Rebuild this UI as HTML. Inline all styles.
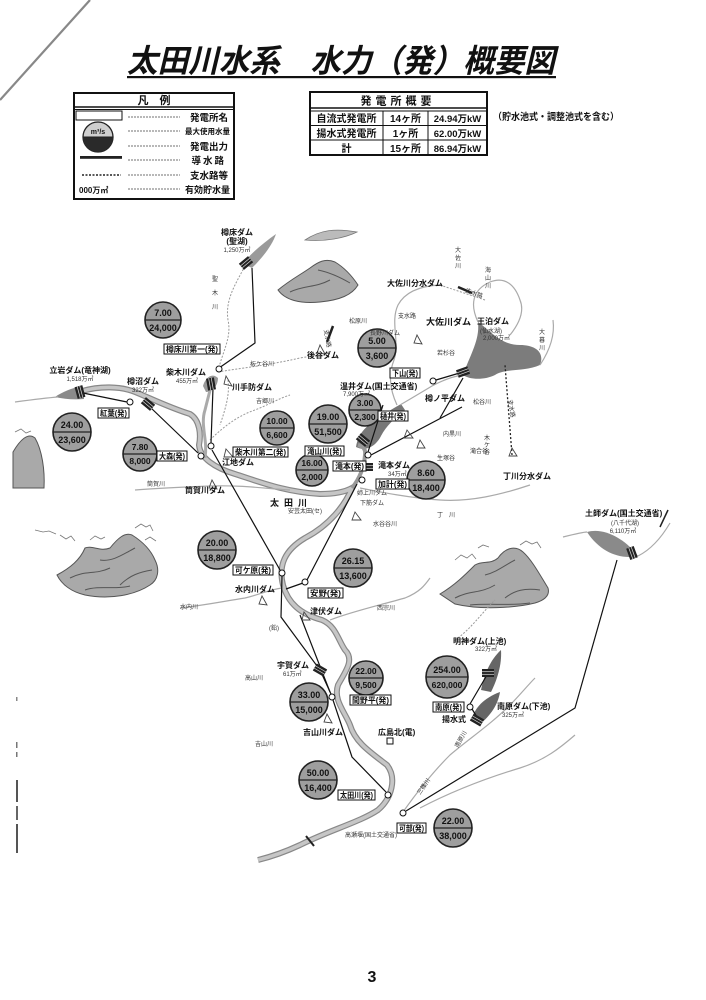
<!DOCTYPE html>
<html><head><meta charset="utf-8">
<style>
html,body{margin:0;padding:0;background:#fff;}
svg{display:block}
text{font-family:"Liberation Sans","Noto Sans CJK JP",sans-serif;font-weight:bold;fill:#111}
.s{font-size:6px;font-weight:normal;fill:#333}
.m{font-size:8px}
.n{font-size:9px}
.c{text-anchor:middle}
.thin{fill:none;stroke:#999;stroke-width:1;stroke-dasharray:2 1.5}
.riv{fill:none;stroke:#aaa;stroke-width:1.2}
.cond{fill:none;stroke:#111;stroke-width:1.2}
.box{fill:#fff;stroke:#111;stroke-width:1}
.pc{fill:#9e9e9e;stroke:#222;stroke-width:1.6}
.mk{fill:#fff;stroke:#111;stroke-width:1}
.mt{fill:#a9a9a9;stroke:#555;stroke-width:1}
.cl{fill:none;stroke:#777;stroke-width:0.8}
</style></head><body>
<svg width="706" height="1000" viewBox="0 0 706 1000" xmlns="http://www.w3.org/2000/svg">
<defs>
<symbol id="dam" viewBox="-7 -5 14 10" overflow="visible">
<rect x="-6" y="-4" width="12" height="8" fill="#222"/>
<line x1="-6" y1="-1.3" x2="6" y2="-1.3" stroke="#ddd" stroke-width="0.7"/>
<line x1="-6" y1="1.3" x2="6" y2="1.3" stroke="#ddd" stroke-width="0.7"/>
</symbol>
</defs>

<!-- scan artefacts -->
<line x1="0" y1="100" x2="90" y2="0" stroke="#888" stroke-width="2.2"/>
<rect x="16" y="780" width="2" height="22" fill="#555"/>
<rect x="16" y="806" width="2" height="14" fill="#666"/>
<rect x="16" y="824" width="2" height="29" fill="#555"/>
<rect x="16" y="742" width="1.5" height="6" fill="#777"/>
<rect x="16" y="752" width="1.5" height="5" fill="#777"/>
<rect x="16" y="697" width="1.5" height="4" fill="#888"/>

<!-- Title -->
<text x="127" y="72" font-size="32" font-style="italic" textLength="428" lengthAdjust="spacingAndGlyphs">太田川水系　水力（発）概要図</text>
<rect x="127" y="76" width="429" height="2.2" fill="#111"/>

<!-- Legend -->
<rect x="74" y="93" width="160" height="106" fill="#fff" stroke="#111" stroke-width="2"/>
<line x1="74" y1="107" x2="234" y2="107" stroke="#111" stroke-width="1.5"/>
<line x1="74" y1="109.5" x2="234" y2="109.5" stroke="#111" stroke-width="1"/>
<text x="154" y="104" class="c" font-size="11">凡　例</text>
<rect x="76" y="111" width="46" height="9" class="box"/>
<circle cx="98" cy="137" r="15" fill="#cfcfcf" stroke="#222" stroke-width="1.3"/>
<path d="M83,137 A15,15 0 0 0 113,137 Z" fill="#2a2a2a"/>
<line x1="83" y1="137" x2="113" y2="137" stroke="#222" stroke-width="1"/>
<text x="98" y="134" class="c" font-size="7">m³/s</text>
<rect x="80" y="156" width="42" height="2.8" fill="#222"/>
<line x1="82" y1="175" x2="121" y2="175" stroke="#222" stroke-width="1.5" stroke-dasharray="2 1.5"/>
<text x="79" y="193" font-size="8">000万㎥</text>
<g stroke="#444" stroke-width="0.7" stroke-dasharray="2 1">
<line x1="128" y1="117" x2="180" y2="117"/>
<line x1="128" y1="131" x2="180" y2="131"/>
<line x1="128" y1="146" x2="180" y2="146"/>
<line x1="128" y1="160" x2="180" y2="160"/>
<line x1="128" y1="175" x2="180" y2="175"/>
<line x1="128" y1="189" x2="180" y2="189"/>
</g>
<text x="228" y="121" text-anchor="end" font-size="9.5">発電所名</text>
<text x="230" y="134" text-anchor="end" font-size="7.5">最大使用水量</text>
<text x="228" y="150" text-anchor="end" font-size="9.5">発電出力</text>
<text x="226" y="164" text-anchor="end" font-size="9.5" letter-spacing="2">導水路</text>
<text x="228" y="179" text-anchor="end" font-size="9.5">支水路等</text>
<text x="230" y="193" text-anchor="end" font-size="9">有効貯水量</text>

<!-- Summary table -->
<rect x="310" y="92" width="177" height="63" fill="#fff" stroke="#111" stroke-width="2"/>
<line x1="310" y1="108" x2="487" y2="108" stroke="#111" stroke-width="1.5"/>
<line x1="310" y1="111" x2="487" y2="111" stroke="#111" stroke-width="1"/>
<line x1="310" y1="125.5" x2="487" y2="125.5" stroke="#111" stroke-width="1"/>
<line x1="310" y1="140" x2="487" y2="140" stroke="#111" stroke-width="1"/>
<line x1="383" y1="111" x2="383" y2="155" stroke="#111" stroke-width="1"/>
<line x1="428" y1="111" x2="428" y2="155" stroke="#111" stroke-width="1"/>
<text x="398" y="104.5" class="c" font-size="11" letter-spacing="4">発電所概要</text>
<text x="346.5" y="122" class="c" font-size="10">自流式発電所</text>
<text x="405.5" y="122" class="c" font-size="10">14ヶ所</text>
<text x="457.5" y="122" class="c" font-size="9.5">24.94万kW</text>
<text x="346.5" y="137" class="c" font-size="10">揚水式発電所</text>
<text x="405.5" y="137" class="c" font-size="10">1ヶ所</text>
<text x="457.5" y="137" class="c" font-size="9.5">62.00万kW</text>
<text x="346.5" y="152" class="c" font-size="10">計</text>
<text x="405.5" y="152" class="c" font-size="10">15ヶ所</text>
<text x="457.5" y="152" class="c" font-size="9.5">86.94万kW</text>
<text x="493" y="120" font-size="9.5" textLength="126" lengthAdjust="spacingAndGlyphs">（貯水池式・調整池式を含む）</text>

<!-- Mountains -->
<path class="mt" d="M57,575 C70,568 80,560 85,548 C92,545 100,552 110,548 C118,538 125,532 132,535 C140,540 150,548 155,560 C160,570 158,580 150,585 C135,595 110,600 85,595 C72,592 62,585 57,575 Z"/>
<path d="M70,578 C85,570 95,575 110,568 M100,560 C112,562 122,555 135,548 M120,585 C130,575 140,572 152,570 M85,590 C100,585 115,590 130,586" fill="none" stroke="#555" stroke-width="1"/>
<path class="cl" d="M35,530 l8,2 l6,-1 l7,3 M60,535 l6,4 l5,-3 l4,5 M90,540 l5,-4 l6,3 l4,-2 M135,528 l6,-4 l5,3 l4,-2 l3,6 M145,540 l5,-3 l6,4"/>
<path class="mt" d="M440,594 C455,585 465,575 475,565 C483,560 490,565 498,558 C505,548 515,545 523,552 C532,560 540,575 548,588 C550,595 545,600 535,603 C515,608 480,610 455,604 Z"/>
<path d="M455,598 C470,590 480,594 495,585 M485,575 C497,572 505,565 515,560 M505,598 C515,590 525,588 540,590 M470,605 C490,603 510,606 530,603" fill="none" stroke="#555" stroke-width="1"/>
<path class="cl" d="M455,560 l6,-5 l6,3 l5,-4 l4,5 M478,548 l5,-3 l6,2 M520,545 l6,-4 l6,3 l5,-2 l4,6"/>
<path class="mt" d="M278,290 C290,280 300,275 310,268 C318,262 325,258 335,262 C345,268 352,276 358,285 C352,295 340,300 320,302 C300,304 285,300 278,290 Z"/>
<path d="M290,292 C305,285 315,288 330,280 M318,270 C328,272 338,276 350,283" fill="none" stroke="#555" stroke-width="1"/>
<path d="M305,240 C320,230 335,228 357,232 C345,238 325,242 305,240 Z" fill="#bbb" stroke="#777" stroke-width="0.8"/>
<path class="mt" d="M13,452 C20,440 28,432 35,438 C42,450 45,470 44,488 L13,488 Z"/>
<path class="cl" d="M15,432 l6,-3 l5,4 l5,-2"/>

<!-- Reservoirs -->
<path d="M243,264 C250,254 262,244 276,234 C272,246 262,258 252,268 Z" fill="#9a9a9a"/>
<path d="M55,397 C62,392 72,388 82,386 L84,399 C74,400 64,399 55,397 Z" fill="#8a8a8a"/>
<path d="M463,375 C470,355 480,340 478,322 C490,330 500,345 520,345 C535,345 545,352 540,365 C525,372 505,368 495,375 C485,380 470,380 463,375 Z" fill="#7c7c7c"/>
<path d="M356,447 C358,434 366,426 376,420 C384,414 392,409 401,404 L405,410 C395,418 386,426 381,436 C376,446 366,452 356,447 Z" fill="#777"/>
<path d="M587,532 C605,527 626,540 638,556 C620,560 600,552 587,532 Z" fill="#8a8a8a"/>
<path d="M481,690 C484,675 490,660 501,650 C502,665 497,680 491,692 Z" fill="#666"/>
<path d="M472,720 C474,708 484,698 500,692 C498,705 490,716 480,724 Z" fill="#666"/>
<path d="M203,386 C205,378 212,372 218,378 C218,386 212,392 206,392 Z" fill="#999"/>

<!-- Main river -->
<path d="M82,391 C100,386 120,386 135,392 C150,398 170,408 190,414 C200,420 201,435 199,445 C200,458 215,468 235,474 C260,482 285,492 320,494 C335,494 345,492 352,488 C345,505 330,525 305,538 C285,550 278,565 283,585 C288,603 300,614 322,620 C336,626 338,640 345,650 C355,660 345,672 338,685 C333,700 345,712 350,725 C355,742 370,752 387,765 C397,778 392,798 378,810 C360,822 330,830 300,845 C285,852 270,857 258,860" fill="none" stroke="#888" stroke-width="6"/>
<path d="M82,391 C100,386 120,386 135,392 C150,398 170,408 190,414 C200,420 201,435 199,445 C200,458 215,468 235,474 C260,482 285,492 320,494 C335,494 345,492 352,488 C345,505 330,525 305,538 C285,550 278,565 283,585 C288,603 300,614 322,620 C336,626 338,640 345,650 C355,660 345,672 338,685 C333,700 345,712 350,725 C355,742 370,752 387,765 C397,778 392,798 378,810 C360,822 330,830 300,845 C285,852 270,857 258,860" fill="none" stroke="#c6c6c6" stroke-width="3.6"/>
<path d="M352,488 C360,478 364,468 365,455 C366,448 362,446 358,445" fill="none" stroke="#999" stroke-width="4"/>
<path d="M205,458 C208,440 200,425 205,410 C208,398 210,390 212,383" fill="none" stroke="#aaa" stroke-width="3"/>
<line x1="306" y1="836" x2="314" y2="846" stroke="#222" stroke-width="2"/>

<!-- Thin rivers -->
<path class="riv" d="M15,402 C30,400 45,398 58,397"/>
<path class="thin" d="M245,266 C235,285 225,300 228,320 C232,338 222,352 218,372"/>
<path class="thin" d="M218,372 C240,368 265,366 300,358 C310,356 318,356 322,355"/>
<path class="thin" d="M210,440 C225,425 240,415 255,410 C268,405 280,398 290,395"/>
<path class="thin" d="M228,380 C230,395 225,410 220,425"/>
<path class="riv" d="M135,490 C160,488 185,487 210,486 C240,485 260,488 290,490"/>
<path class="riv" d="M180,608 C200,606 220,602 245,598 C258,595 268,590 282,588"/>
<path class="riv" d="M330,620 C350,612 380,605 405,598 C420,592 425,585 430,578"/>
<path class="riv" d="M397,405 C390,390 388,375 394,360 C400,342 390,322 398,305 C405,292 420,286 440,285"/>
<path class="riv" d="M400,405 C412,398 422,392 432,386 C445,379 455,376 463,375"/>
<path class="riv" d="M478,322 C470,305 472,290 490,282 C505,276 515,285 520,300 C525,312 518,325 510,335"/>
<path class="riv" d="M540,365 C550,350 555,335 553,320"/>
<path class="thin" d="M440,285 C455,290 470,295 485,300"/>
<path class="riv" d="M360,488 C380,492 410,498 440,500 C470,502 500,495 530,485"/>
<path class="riv" d="M403,812 C415,795 430,775 450,755 C470,738 490,725 510,705 C520,695 528,685 535,678"/>
<path class="riv" d="M420,808 C445,795 480,780 520,768 C545,760 560,748 575,735"/>
<path class="riv" d="M563,537 C575,534 583,532 587,532 M638,556 C650,550 660,540 670,523"/>
<line x1="660" y1="527" x2="668" y2="510" stroke="#222" stroke-width="1.5"/>
<path class="thin" d="M455,640 C470,630 480,615 495,600"/>

<!-- Conduits -->
<path class="cond" d="M252,268 L255,343 L219,368"/>
<path class="cond" d="M213,388 L211,443"/>
<path class="cond" d="M83,393 L127,402"/>
<path class="cond" d="M150,407 L198,453"/>
<path class="cond" d="M212,450 L280,570"/>
<path class="cond" d="M282,576 L281,617 L320,670 L331,694"/>
<path class="cond" d="M300,615 L330,692"/>
<path class="cond" d="M333,700 L352,757 L386,792"/>
<path class="cond" d="M357,484 L307,580 M303,583 L286,589"/>
<path class="cond" d="M617,560 L575,708 L406,811"/>
<path class="cond" d="M470,704 L487,675 M472,709 L477,717"/>
<path class="cond" d="M436,380 L463,372"/>
<path class="cond" d="M368,452 L383,405 M371,455 L462,407"/>
<path class="cond" d="M463,378 L440,418"/>
<path d="M512,455 L505,365" fill="none" stroke="#222" stroke-width="1.3" stroke-dasharray="2 2"/>
<path d="M458,287 L472,293" stroke="#222" stroke-width="2.5"/>
<path d="M327,342 L333,326" stroke="#222" stroke-width="2.5"/>

<!-- Dam symbols -->
<use href="#dam" x="-7" y="-5" width="14" height="10" transform="translate(246,263) rotate(-40)"/>
<use href="#dam" x="-7" y="-5" width="14" height="10" transform="translate(80,392) rotate(75)"/>
<use href="#dam" x="-7" y="-5" width="14" height="10" transform="translate(148,404) rotate(40)"/>
<use href="#dam" x="-7" y="-5" width="14" height="10" transform="translate(211,384) rotate(80)"/>
<use href="#dam" x="-7" y="-5" width="14" height="10" transform="translate(463,372) rotate(-20)"/>
<use href="#dam" x="-7" y="-5" width="14" height="10" transform="translate(363,440) rotate(40)"/>
<use href="#dam" x="-7" y="-5" width="14" height="10" transform="translate(488,673) rotate(0)"/>
<use href="#dam" x="-7" y="-5" width="14" height="10" transform="translate(477,720) rotate(30)"/>
<use href="#dam" x="-7" y="-5" width="14" height="10" transform="translate(632,553) rotate(70)"/>
<use href="#dam" x="-7" y="-5" width="14" height="10" transform="translate(367,467) rotate(0)"/>
<use href="#dam" x="-7" y="-5" width="14" height="10" transform="translate(320,670) rotate(30)"/>

<!-- Small weir icons -->
<g fill="none" stroke="#444" stroke-width="0.9">
<path d="M226,376 l6,10 l-8,-2 z"/>
<path d="M226,449 l7,8 l-9,0 z"/>
<path d="M212,480 l5,9 l-8,-1 z"/>
<path d="M262,596 l5,9 l-8,-1 z"/>
<path d="M304,612 l6,8 l-8,0 z"/>
<path d="M327,714 l5,9 l-8,-1 z"/>
<path d="M355,512 l6,8 l-9,0 z"/>
<path d="M407,430 l6,8 l-9,0 z"/>
<path d="M420,440 l5,8 l-8,0 z"/>
<path d="M512,448 l5,8 l-8,0 z"/>
<path d="M417,335 l5,9 l-8,-1 z"/>
<path d="M320,345 l5,9 l-8,-1 z"/>
</g>

<!-- Marker circles -->
<g class="mk">
<circle cx="219" cy="369" r="3"/>
<circle cx="130" cy="402" r="3"/>
<circle cx="211" cy="446" r="3"/>
<circle cx="201" cy="456" r="3"/>
<circle cx="282" cy="573" r="3"/>
<circle cx="305" cy="582" r="3"/>
<circle cx="332" cy="697" r="3"/>
<circle cx="388" cy="795" r="3"/>
<circle cx="403" cy="813" r="3"/>
<circle cx="470" cy="707" r="3"/>
<circle cx="433" cy="381" r="3"/>
<circle cx="368" cy="455" r="3"/>
<circle cx="362" cy="480" r="3"/>
</g>
<rect x="387" y="738" width="6" height="6" class="box"/>

<!-- Power-plant circles -->
<g>
<circle cx="163" cy="320" r="18" class="pc"/><line x1="145" y1="320" x2="181" y2="320" stroke="#222" stroke-width="1.2"/>
<text x="163" y="316" class="c n">7.00</text><text x="163" y="331" class="c n">24,000</text>

<circle cx="72" cy="432" r="19" class="pc"/><line x1="53" y1="432" x2="91" y2="432" stroke="#222" stroke-width="1.2"/>
<text x="72" y="428" class="c n">24.00</text><text x="72" y="443" class="c n">23,600</text>

<circle cx="140" cy="454" r="17" class="pc"/><line x1="123" y1="454" x2="157" y2="454" stroke="#222" stroke-width="1.2"/>
<text x="140" y="450" class="c" font-size="8.5">7.80</text><text x="140" y="464" class="c" font-size="8.5">8,000</text>

<circle cx="277" cy="428" r="17" class="pc"/><line x1="260" y1="428" x2="294" y2="428" stroke="#222" stroke-width="1.2"/>
<text x="277" y="424" class="c" font-size="8.5">10.00</text><text x="277" y="438" class="c" font-size="8.5">6,600</text>

<circle cx="328" cy="424" r="19" class="pc"/><line x1="309" y1="424" x2="347" y2="424" stroke="#222" stroke-width="1.2"/>
<text x="328" y="420" class="c n">19.00</text><text x="328" y="435" class="c n">51,500</text>

<circle cx="365" cy="410" r="16" class="pc"/><line x1="349" y1="410" x2="381" y2="410" stroke="#222" stroke-width="1.2"/>
<text x="365" y="406" class="c" font-size="8.5">3.00</text><text x="365" y="420" class="c" font-size="8.5">2,300</text>

<circle cx="377" cy="348" r="19" class="pc"/><line x1="358" y1="348" x2="396" y2="348" stroke="#222" stroke-width="1.2"/>
<text x="377" y="344" class="c n">5.00</text><text x="377" y="359" class="c n">3,600</text>

<circle cx="312" cy="470" r="16" class="pc"/><line x1="296" y1="470" x2="328" y2="470" stroke="#222" stroke-width="1.2"/>
<text x="312" y="466" class="c" font-size="8.5">16.00</text><text x="312" y="480" class="c" font-size="8.5">2,000</text>

<circle cx="426" cy="480" r="19" class="pc"/><line x1="407" y1="480" x2="445" y2="480" stroke="#222" stroke-width="1.2"/>
<text x="426" y="476" class="c n">8.60</text><text x="426" y="491" class="c n">18,400</text>

<circle cx="217" cy="550" r="19" class="pc"/><line x1="198" y1="550" x2="236" y2="550" stroke="#222" stroke-width="1.2"/>
<text x="217" y="546" class="c n">20.00</text><text x="217" y="561" class="c n">18,800</text>

<circle cx="353" cy="568" r="19" class="pc"/><line x1="334" y1="568" x2="372" y2="568" stroke="#222" stroke-width="1.2"/>
<text x="353" y="564" class="c n">26.15</text><text x="353" y="579" class="c n">13,600</text>

<circle cx="366" cy="678" r="17" class="pc"/><line x1="349" y1="678" x2="383" y2="678" stroke="#222" stroke-width="1.2"/>
<text x="366" y="674" class="c" font-size="8.5">22.00</text><text x="366" y="688" class="c" font-size="8.5">9,500</text>

<circle cx="309" cy="702" r="19" class="pc"/><line x1="290" y1="702" x2="328" y2="702" stroke="#222" stroke-width="1.2"/>
<text x="309" y="698" class="c n">33.00</text><text x="309" y="713" class="c n">15,000</text>

<circle cx="318" cy="780" r="19" class="pc"/><line x1="299" y1="780" x2="337" y2="780" stroke="#222" stroke-width="1.2"/>
<text x="318" y="776" class="c n">50.00</text><text x="318" y="791" class="c n">16,400</text>

<circle cx="447" cy="677" r="21" class="pc"/><line x1="426" y1="677" x2="468" y2="677" stroke="#222" stroke-width="1.2"/>
<text x="447" y="673" class="c n">254.00</text><text x="447" y="688" class="c" font-size="8.5">620,000</text>

<circle cx="453" cy="828" r="19" class="pc"/><line x1="434" y1="828" x2="472" y2="828" stroke="#222" stroke-width="1.2"/>
<text x="453" y="824" class="c n">22.00</text><text x="453" y="839" class="c n">38,000</text>
</g>

<!-- Name boxes -->
<g>
<rect x="164" y="344" width="56" height="10" class="box"/><text x="192" y="352" class="c m" textLength="52" lengthAdjust="spacingAndGlyphs">樽床川第一(発)</text>
<rect x="98" y="408" width="31" height="10" class="box"/><text x="113.5" y="416" class="c m" textLength="27" lengthAdjust="spacingAndGlyphs">紅葉(発)</text>
<rect x="157" y="451" width="30" height="10" class="box"/><text x="172" y="459" class="c m" textLength="26" lengthAdjust="spacingAndGlyphs">大森(発)</text>
<rect x="233" y="447" width="55" height="10" class="box"/><text x="260.5" y="455" class="c m" textLength="51" lengthAdjust="spacingAndGlyphs">柴木川第二(発)</text>
<rect x="305" y="446" width="39" height="10" class="box"/><text x="324.5" y="454" class="c m" textLength="35" lengthAdjust="spacingAndGlyphs">滝山川(発)</text>
<rect x="378" y="411" width="30" height="10" class="box"/><text x="393" y="419" class="c m" textLength="26" lengthAdjust="spacingAndGlyphs">樋井(発)</text>
<rect x="390" y="368" width="30" height="10" class="box"/><text x="405" y="376" class="c m" textLength="26" lengthAdjust="spacingAndGlyphs">下山(発)</text>
<rect x="333" y="461" width="33" height="10" class="box"/><text x="349.5" y="469" class="c m" textLength="29" lengthAdjust="spacingAndGlyphs">滝本(発)</text>
<rect x="376" y="479" width="33" height="10" class="box"/><text x="392.5" y="487" class="c m" textLength="29" lengthAdjust="spacingAndGlyphs">加計(発)</text>
<rect x="233" y="565" width="40" height="10" class="box"/><text x="253" y="573" class="c m" textLength="36" lengthAdjust="spacingAndGlyphs">可ケ原(発)</text>
<rect x="308" y="588" width="35" height="10" class="box"/><text x="325.5" y="596" class="c m" textLength="31" lengthAdjust="spacingAndGlyphs">安野(発)</text>
<rect x="350" y="695" width="41" height="10" class="box"/><text x="370.5" y="703" class="c m" textLength="37" lengthAdjust="spacingAndGlyphs">間野平(発)</text>
<rect x="338" y="790" width="37" height="10" class="box"/><text x="356.5" y="798" class="c m" textLength="33" lengthAdjust="spacingAndGlyphs">太田川(発)</text>
<rect x="433" y="702" width="31" height="10" class="box"/><text x="448.5" y="710" class="c m" textLength="27" lengthAdjust="spacingAndGlyphs">南原(発)</text>
<rect x="397" y="823" width="29" height="10" class="box"/><text x="411.5" y="831" class="c m" textLength="25" lengthAdjust="spacingAndGlyphs">可部(発)</text>
</g>

<!-- Labels -->
<g>
<text x="237" y="235" class="c m">樽床ダム</text>
<text x="237" y="244" class="c m">(聖湖)</text>
<text x="237" y="252" class="c s">1,250万㎥</text>
<text x="215" y="281" class="c s" font-size="7">聖</text>
<text x="215" y="295" class="c s" font-size="7">木</text>
<text x="215" y="309" class="c s" font-size="7">川</text>
<text x="186" y="375" class="c m">柴木川ダム</text>
<text x="187" y="383" class="c s">455万㎥</text>
<text x="232" y="390" class="m">川手防ダム</text>
<text x="250" y="366" class="s" font-size="7">板ケ谷川</text>
<text x="256" y="403" class="s" font-size="7">吉郷川</text>
<text x="80" y="373" class="c m">立岩ダム(竜神湖)</text>
<text x="80" y="381" class="c s">1,518万㎥</text>
<text x="143" y="384" class="c m">樽沼ダム</text>
<text x="143" y="392" class="c s">322万㎥</text>
<text x="222" y="465" class="m">江地ダム</text>
<text x="185" y="493" class="m">筒賀川ダム</text>
<text x="147" y="486" class="s" font-size="7">筒賀川</text>
<text x="270" y="506" class="n" letter-spacing="5" font-weight="normal">太田川</text>
<text x="288" y="513" class="s" font-size="6.5" font-weight="bold">安芸太田(セ)</text>
<text x="349" y="323" class="s" font-size="7">松原川</text>
<text x="370" y="335" class="s" font-size="6.5" font-weight="bold">長野川ダム</text>
<text x="387" y="286" class="m">大佐川分水ダム</text>
<text x="458" y="252" class="c s" font-size="7">大</text>
<text x="458" y="260" class="c s" font-size="7">佐</text>
<text x="458" y="268" class="c s" font-size="7">川</text>
<text x="488" y="272" class="c s" font-size="7">海</text>
<text x="488" y="280" class="c s" font-size="7">山</text>
<text x="488" y="288" class="c s" font-size="7">川</text>
<text x="398" y="318" class="s" font-size="6" font-weight="bold">支水路</text>
<text x="465" y="292" class="s" font-size="6" font-weight="bold" transform="rotate(20 465 292)">支水路</text>
<text x="426" y="325" class="n">大佐川ダム</text>
<text x="477" y="324" class="m">王泊ダム</text>
<text x="480" y="333" class="s" font-weight="bold" font-size="6.5">(仙水湖)</text>
<text x="483" y="340" class="s">2,000万㎥</text>
<text x="542" y="334" class="c s" font-size="7">大</text>
<text x="542" y="342" class="c s" font-size="7">暮</text>
<text x="542" y="350" class="c s" font-size="7">川</text>
<text x="437" y="355" class="s" font-size="7">若杉谷</text>
<text x="307" y="358" class="m">後谷ダム</text>
<text x="324" y="330" class="s" font-size="6" font-weight="bold" transform="rotate(80 324 330)">支水路</text>
<text x="340" y="389" class="m" font-size="7.5">温井ダム(国土交通省)</text>
<text x="343" y="396" class="s">7,900万㎥</text>
<text x="425" y="401" class="m">樽ノ平ダム</text>
<text x="473" y="404" class="s" font-size="7">松谷川</text>
<text x="508" y="400" class="s" font-size="6" font-weight="bold" transform="rotate(80 508 400)">支水路</text>
<text x="443" y="436" class="s" font-size="7">内黒川</text>
<text x="487" y="440" class="c s" font-size="6">木</text>
<text x="487" y="447" class="c s" font-size="6">ケ</text>
<text x="487" y="454" class="c s" font-size="6">谷</text>
<text x="470" y="453" class="s" font-size="7">滝合谷</text>
<text x="437" y="460" class="s" font-size="7">生塚谷</text>
<text x="503" y="479" class="m">丁川分水ダム</text>
<text x="378" y="468" class="m">滝本ダム</text>
<text x="388" y="476" class="s">34万㎥</text>
<text x="357" y="495" class="s" font-size="6.5" font-weight="bold">姉上川ダム</text>
<text x="360" y="505" class="s" font-size="6.5" font-weight="bold">下筋ダム</text>
<text x="437" y="517" class="s" font-size="7">丁　川</text>
<text x="373" y="526" class="s" font-size="6.5">水谷谷川</text>
<text x="235" y="592" class="m">水内川ダム</text>
<text x="180" y="609" class="s" font-size="7">水内川</text>
<text x="310" y="614" class="m">津伏ダム</text>
<text x="377" y="610" class="s" font-size="7">西宗川</text>
<text x="269" y="630" class="s" font-size="7">(鉛)</text>
<text x="277" y="668" class="m">宇賀ダム</text>
<text x="283" y="676" class="s">61万㎥</text>
<text x="245" y="680" class="s" font-size="7">高山川</text>
<text x="303" y="735" class="m">吉山川ダム</text>
<text x="378" y="735" class="m">広島北(電)</text>
<text x="255" y="746" class="s" font-size="7">吉山川</text>
<text x="453" y="644" class="m">明神ダム(上池)</text>
<text x="475" y="651" class="s">322万㎥</text>
<text x="497" y="709" class="m">南原ダム(下池)</text>
<text x="502" y="717" class="s">325万㎥</text>
<text x="442" y="722" class="m">揚水式</text>
<text x="458" y="748" class="s" font-size="7" font-weight="bold" transform="rotate(-60 458 748)">南原川</text>
<text x="420" y="795" class="s" font-size="7" font-weight="bold" transform="rotate(-55 420 795)">三篠川</text>
<text x="345" y="837" class="s" font-size="6" font-weight="bold">高瀬堰(国土交通省)</text>
<text x="585" y="516" class="m" font-size="7.5">土師ダム(国土交通省)</text>
<text x="625" y="525" class="c s" font-size="6.5" font-weight="bold">(八千代湖)</text>
<text x="623" y="533" class="c s">6,110万㎥</text>
</g>

<!-- Page number -->
<text x="372" y="982" class="c" font-size="16">3</text>
</svg>
</body></html>
